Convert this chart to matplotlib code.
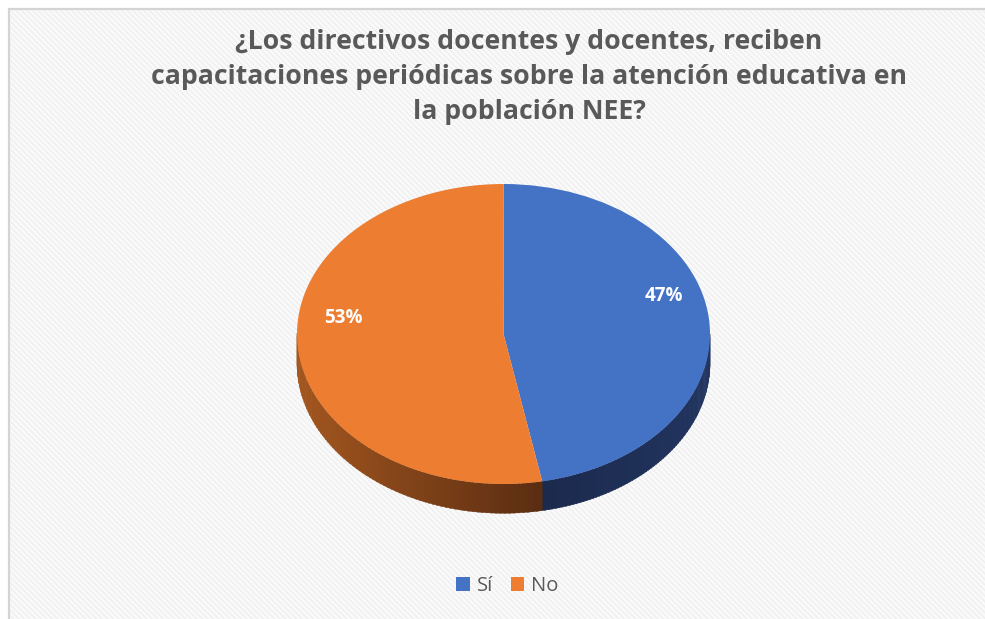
import numpy as np
import matplotlib
matplotlib.use('Agg')
import matplotlib.pyplot as plt
from matplotlib.patches import Rectangle, Polygon
from matplotlib.colors import to_rgb

# ---- data ----
categories = ['Sí', 'No']
values = [47, 53]
colors_top = ['#4472C4', '#ED7D31']
side_dark = ['#1b2a4d', '#5a2d11']
side_light = ['#22355f', '#a3561f']
title = ('¿Los directivos docentes y docentes, reciben\n'
         'capacitaciones periódicas sobre la atención educativa en\n'
         'la población NEE?')

W, H = 985, 619
fig = plt.figure(figsize=(W / 100, H / 100), dpi=100)
fig.patch.set_facecolor('white')

bg = fig.add_axes([0, 0, 1, 1])
bg.set_xlim(0, W)
bg.set_ylim(H, 0)
bg.axis('off')
bg.add_patch(Rectangle((8.5, 8.5), W + 10, H + 10, facecolor='#fafafa',
                       edgecolor='#d4d4d4', lw=1.6, zorder=0))
bg.add_patch(Rectangle((9.5, 9.5), W + 10, H + 10, facecolor='none',
                       edgecolor='#efefef', hatch='\\\\\\\\\\\\', lw=0, zorder=0.5))

bg.text(529, 77, title, ha='center', va='center', fontsize=19.2,
        fontweight='bold', color='#595959', family='Open Sans', linespacing=1.45)

# ---- pie geometry (pixels) ----
cx, cy = 503.5, 334
rx, ry = 206.5, 150
depth = 0.195
xl = (-1.05, 1.05)
yl = (-1.3, 1.05)
left_px = cx + xl[0] * rx
width_px = (xl[1] - xl[0]) * rx
top_px = cy - yl[1] * ry
bottom_px = cy - yl[0] * ry
ax = fig.add_axes([left_px / W, 1 - bottom_px / H, width_px / W,
                   (bottom_px - top_px) / H])
ax.patch.set_alpha(0)

# side walls (3D effect), computed from the data fractions
fracs = np.array(values, dtype=float) / np.sum(values)
bounds = np.concatenate([[0], np.cumsum(fracs) * 360])
for i in range(len(values)):
    a1, a2 = max(bounds[i], 90), min(bounds[i + 1], 270)
    if a2 <= a1:
        continue
    edges = np.linspace(a1, a2, 80)
    xs_all = np.sin(np.radians(edges))
    xmin, xmax = xs_all.min(), xs_all.max()
    for j in range(len(edges) - 1):
        t = np.linspace(edges[j], edges[j + 1] + 0.3, 4)
        x = np.sin(np.radians(t))
        y = np.cos(np.radians(t))
        pts = np.vstack([np.column_stack([x, y]),
                         np.column_stack([x[::-1], y[::-1] - depth])])
        xm = x.mean()
        f = (xm - xmin) / (xmax - xmin + 1e-9)
        if i == 1:
            c = np.array(to_rgb(side_light[i])) * (1 - f) + np.array(to_rgb(side_dark[i])) * f
        else:
            c = np.array(to_rgb(side_dark[i])) * (1 - f) + np.array(to_rgb(side_light[i])) * f
        ax.add_patch(Polygon(pts, closed=True, facecolor=c, edgecolor=c,
                             lw=0.3, zorder=1))

wedges, texts, autotexts = ax.pie(
    values, colors=colors_top, startangle=90, counterclock=False,
    radius=1, autopct='%.0f%%', pctdistance=0.78,
    wedgeprops=dict(linewidth=0, zorder=2),
    textprops=dict(color='white', fontsize=13.5, fontweight='bold',
                   family='Open Sans'))
for t in autotexts:
    x, y = t.get_position()
    t.set_position((x, y + 0.18))
    t.set_zorder(3)

ax.set_aspect('auto')
ax.set_xlim(*xl)
ax.set_ylim(*yl)
ax.axis('off')

fig.legend(wedges, categories, loc='center',
           bbox_to_anchor=(507.5 / W, 1 - 586 / H), ncol=2, frameon=False,
           handlelength=0.65, handleheight=0.65, handletextpad=0.35,
           columnspacing=0.9, prop=dict(family='Open Sans', size=14.5),
           labelcolor='#595959')

fig.savefig('out.png', dpi=100, facecolor=fig.get_facecolor())
